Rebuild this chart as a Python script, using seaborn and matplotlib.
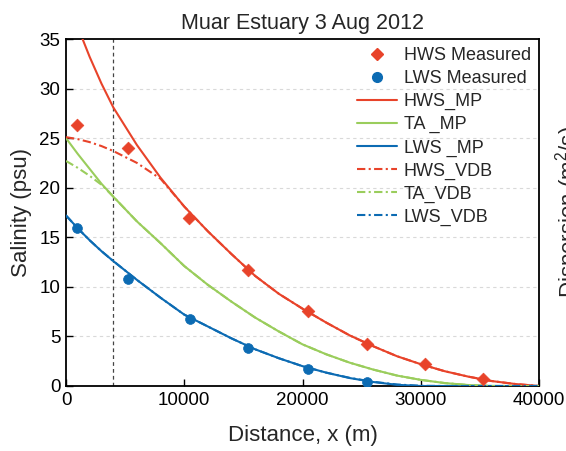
import matplotlib
matplotlib.use("Agg")
import matplotlib.pyplot as plt
import seaborn as sns
import pandas as pd
from matplotlib.lines import Line2D

# ---- data ----
meas_hws_x = [900, 5270, 10430, 15400, 20500, 25460, 30360, 35300]
meas_hws_y = [26.3, 24.0, 16.9, 11.7, 7.6, 4.25, 2.2, 0.67]
meas_lws_x = [900, 5270, 10450, 15400, 20500, 25460]
meas_lws_y = [15.9, 10.8, 6.8, 3.86, 1.72, 0.45]

curve_x = [0, 1000, 2000, 3000, 4000, 6000, 8000, 10000, 12000, 14000, 16000, 18000, 20000,
           22000, 24000, 26000, 28000, 30000, 32000, 34000, 36000, 38000, 40000]
hws_mp = [39.5, 36.2, 33.2, 30.5, 28.1, 24.3, 21.0, 18.1, 15.6, 13.3, 11.1, 9.3, 7.8,
          6.4, 5.1, 4.0, 3.0, 2.2, 1.5, 0.95, 0.5, 0.2, 0.0]
ta_mp = [25.0, 23.4, 21.9, 20.4, 19.1, 16.6, 14.4, 12.1, 10.2, 8.5, 6.9, 5.5, 4.2,
         3.2, 2.35, 1.65, 1.05, 0.62, 0.3, 0.1, 0.0, 0.0, 0.0]
lws_mp = [17.2, 15.9, 14.7, 13.6, 12.6, 10.7, 8.9, 7.2, 6.0, 4.8, 3.7, 2.8, 2.0,
          1.35, 0.8, 0.4, 0.12, 0.0, 0.0, 0.0, 0.0, 0.0, 0.0]
hws_vdb = [25.1, 24.9, 24.6, 24.2, 23.7, 22.5, 20.9, 18.1, 15.6, 13.3, 11.1, 9.3, 7.8,
           6.4, 5.1, 4.0, 3.0, 2.2, 1.5, 0.95, 0.5, 0.2, 0.0]
ta_vdb = [22.7, 22.0, 21.2, 20.3, 19.1, 16.6, 14.4, 12.1, 10.2, 8.5, 6.9, 5.5, 4.2,
          3.2, 2.35, 1.65, 1.05, 0.62, 0.3, 0.1, 0.0, 0.0, 0.0]
lws_vdb = [17.2, 15.9, 14.7, 13.6, 12.6, 10.7, 8.9, 7.2, 6.0, 4.8, 3.7, 2.8, 2.0,
           1.35, 0.82, 0.42, 0.15, 0.02, 0.0, 0.0, 0.0, 0.0, 0.0]
vline_x = 4000

x_ticks = [0, 10000, 20000, 30000, 40000]
y_ticks = [0, 5, 10, 15, 20, 25, 30, 35]

RED = "#e8432a"
GREEN = "#9acd5c"
BLUE = "#0c6bb3"

sns.set_style("ticks")
plt.rcParams["font.family"] = ["Liberation Sans", "DejaVu Sans"]
plt.rcParams["mathtext.default"] = "regular"

fig = plt.figure(figsize=(5.66, 4.51), dpi=100)
ax = fig.add_axes([66 / 566, 65 / 451, 473 / 566, 347 / 451])

# gridlines
for yv in y_ticks[1:-1]:
    ax.axhline(yv, color="#d9d9d9", lw=0.8, ls=(0, (3, 3)), zorder=0)
ax.axvline(vline_x, color="#444444", lw=0.9, ls=(0, (3, 2.5)), zorder=1)

dd = (0, (4, 1.6, 1, 1.6))
series = [
    ("HWS_MP", hws_mp, RED, "-"),
    ("TA _MP", ta_mp, GREEN, "-"),
    ("LWS _MP", lws_mp, BLUE, "-"),
    ("HWS_VDB", hws_vdb, RED, dd),
    ("TA_VDB", ta_vdb, GREEN, dd),
    ("LWS_VDB", lws_vdb, BLUE, dd),
]
handles = {}
for name, vals, col, ls in series:
    df = pd.DataFrame({"x": curve_x, "y": vals})
    sns.lineplot(data=df, x="x", y="y", ax=ax, color=col, lw=1.5,
                 linestyle=ls, label=name, zorder=3, legend=False)
    handles[name] = ax.lines[-1]

dfh = pd.DataFrame({"x": meas_hws_x, "y": meas_hws_y})
dfl = pd.DataFrame({"x": meas_lws_x, "y": meas_lws_y})
sns.scatterplot(data=dfh, x="x", y="y", ax=ax, marker="D", s=42, color=RED,
                edgecolor=RED, linewidth=0.5, zorder=4, legend=False)
sns.scatterplot(data=dfl, x="x", y="y", ax=ax, marker="o", s=50, color=BLUE,
                edgecolor=BLUE, linewidth=0.5, zorder=4, legend=False)

h_hws = Line2D([], [], marker="D", ls="none", color=RED, markersize=6.5)
h_lws = Line2D([], [], marker="o", ls="none", color=BLUE, markersize=7)
leg_handles = [h_hws, h_lws] + [handles[s[0]] for s in series]
leg_labels = ["HWS Measured", "LWS Measured"] + [s[0] for s in series]
ax.legend(leg_handles, leg_labels, loc="upper right", bbox_to_anchor=(1.0, 1.0),
          frameon=False, fontsize=13, labelspacing=0.33, handlelength=2.25,
          handletextpad=0.35, borderaxespad=0.15, borderpad=0.3)

ax.set_xlim(0, 40000)
ax.set_ylim(0, 35)
ax.set_xticks(x_ticks)
ax.set_yticks(y_ticks)
ax.tick_params(direction="in", length=5, width=1, labelsize=13.5, colors="black",
               pad=4)
for sp in ax.spines.values():
    sp.set_linewidth(1.3)
    sp.set_color("black")
    sp.set_visible(True)
ax.set_xlabel("Distance, x (m)", fontsize=16, labelpad=12)
ax.set_ylabel("Salinity (psu)", fontsize=16, labelpad=5)
ax.set_title("Muar Estuary 3 Aug 2012", fontsize=15.5, pad=7)

fig.text(569 / 566, (451 - 212) / 451, r"Dispersion (m$^2$/s)", rotation=90,
         ha="center", va="center", fontsize=16)

fig.savefig("out.png", dpi=100)
